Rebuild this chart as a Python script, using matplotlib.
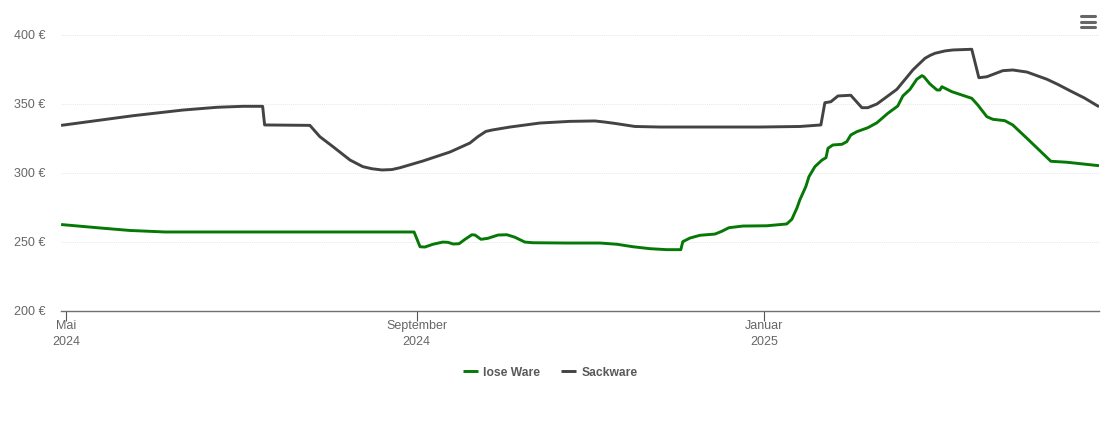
import matplotlib
matplotlib.use('Agg')
import matplotlib.pyplot as plt
from matplotlib.lines import Line2D

plt.rcParams['font.family'] = ['Liberation Sans', 'DejaVu Sans']

# days counted from 1 May 2024
lose_days = [-1.9, 11.8, 22.3, 34.6, 122.1, 124.2, 125.9, 128.7, 132.2, 134, 135.8, 137.9,
             140, 142.4, 143.5, 145.6, 148, 151.6, 154.7, 157.5, 161, 163.9, 175.8, 187.4,
             193.4, 199, 205, 210.9, 215.8, 216.5, 219, 222.5, 227.8, 230.2, 232.7, 237.6,
             246, 253, 254.8, 256.6, 257.6, 259.7, 260.8, 262.9, 265.4, 266.8, 267.5, 269.2,
             272.4, 274.1, 275.5, 277.6, 281.5, 284.7, 288.5, 292, 293.8, 296.3, 298.7, 300.5,
             301.2, 303.3, 305.8, 306.8, 307.5, 311, 318, 320.1, 323.3, 325.4, 329.6, 332.4,
             337.4, 345.8, 351.4, 362.7]
lose_price = [262.4, 259.9, 258.1, 257, 257, 246.3, 246.1, 248.1, 249.7, 249.5, 248.3, 248.5,
              251.7, 255, 254.8, 251.7, 252.4, 254.8, 255, 253.2, 249.7, 249.2, 249, 249,
              248.1, 246.3, 244.9, 244.2, 244.2, 250, 252.6, 254.6, 255.5, 257.5, 260.1, 261.3,
              261.5, 262.8, 266.2, 274.4, 280.2, 289.8, 297, 304.3, 309.1, 310.8, 317.6, 320,
              320.5, 322.4, 327.2, 329.6, 332.5, 336.1, 342.9, 348.2, 355.5, 360.3, 367.6, 370.2,
              369.4, 364.2, 359.8, 359.8, 362.2, 358.6, 353.8, 349, 340.5, 338.6, 337.6, 334.5,
              324.8, 308.2, 307.5, 305]

sack_days = [-1.9, 23.4, 40.9, 52.9, 62, 68.9, 69.6, 85.5, 89, 93.6, 99.6, 104.1, 107.3, 110.8,
             114.3, 117.1, 125.2, 134.7, 141.7, 144.5, 147.3, 149.4, 155.8, 166.3, 176.9, 185.6,
             189.1, 192.7, 196.2, 199.7, 208.5, 243.6, 257.7, 265, 266.4, 268.5, 271, 275.5,
             279.4, 281.5, 284.7, 291.7, 297.3, 299.1, 301.6, 303.4, 305.1, 308.6, 311.4, 318,
             320.5, 323.3, 328.9, 332.4, 337.4, 344.4, 348.3, 352.5, 357.6, 362.7]
sack_price = [334.2, 341.2, 345.3, 347.3, 348, 348, 334.5, 334.2, 326, 318.8, 309.1, 304.3, 302.8, 301.9,
              302.2, 303.5, 308.4, 314.9, 321.4, 326, 329.8, 330.8, 333, 335.9, 337.1, 337.4,
              336.6, 335.6, 334.5, 333.4, 333, 333, 333.4, 334.5, 350.6, 351.3, 355.5, 356,
              347, 347, 349.7, 360.3, 374.3, 377.9, 382.8, 384.9, 386.4, 388.1, 388.8, 389.3,
              368.7, 369.4, 373.8, 374.3, 372.8, 367.6, 363.8, 359.3, 354, 347.7]

y_ticks = [200, 250, 300, 350, 400]
x_ticks = [0, 123, 245]
x_labels = ['Mai\n2024', 'September\n2024', 'Januar\n2025']

W, H = 1110, 422
fig = plt.figure(figsize=(W / 100, H / 100), dpi=100)
ax = fig.add_axes([61 / W, 1 - 310.7 / H, (1099 - 61) / W, (310.7 - 34.5) / H])

ax.plot(lose_days, lose_price, color='#067806', lw=2.1, label='lose Ware',
        solid_joinstyle='round', solid_capstyle='butt')
ax.plot(sack_days, sack_price, color='#434343', lw=2.1, label='Sackware',
        solid_joinstyle='round', solid_capstyle='butt')

ax.set_xlim(-1.93, 362.7)
ax.set_ylim(200, 400)
ax.set_yticks(y_ticks)
ax.set_yticklabels([f'{v} €' for v in y_ticks])
ax.set_xticks(x_ticks)
ax.set_xticklabels(x_labels, linespacing=1.4)
ax.grid(axis='y', color='#e8e8e8', lw=0.7, ls=(0, (1, 1)))
ax.set_axisbelow(True)

for side in ['top', 'right', 'left']:
    ax.spines[side].set_visible(False)
ax.spines['bottom'].set_color('#707070')
ax.spines['bottom'].set_linewidth(1)
ax.tick_params(axis='y', length=0, pad=11, labelsize=9, labelcolor='#666666')
ax.tick_params(axis='x', length=7, width=0.8, color='#555555', pad=0,
               labelsize=9, labelcolor='#666666')

leg = fig.legend(loc='center', bbox_to_anchor=(550 / W, 1 - 372.5 / H), ncol=2, frameon=False,
                 prop={'size': 8.7, 'weight': 'bold'}, labelcolor='#595959',
                 handlelength=1.25, handletextpad=0.42, columnspacing=1.75)

# menu icon top right
for y in [16, 21.5, 27]:
    fig.add_artist(Line2D([1081 / W, 1095 / W], [1 - y / H, 1 - y / H], color='#666666',
                          lw=2.2, solid_capstyle='round'))

fig.savefig('out.png', dpi=100)
